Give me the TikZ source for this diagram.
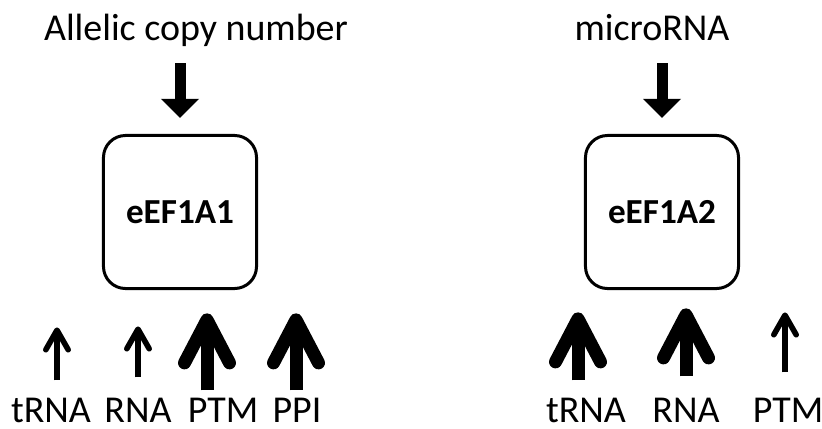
\documentclass[tikz,border=0pt]{standalone}
\usepackage{fontspec}
\setmainfont{Carlito}
\usetikzlibrary{arrows.meta}
\begin{document}
\begin{tikzpicture}[x=0.025cm, y=-0.025cm,
        lbl/.style={anchor=base, inner sep=0pt, font=\fontsize{27}{32}\selectfont},
        gene/.style={draw, line width=0.075cm, rounded corners=0.55cm,
            minimum width=3.825cm, minimum height=3.825cm,
            font=\fontsize{25}{30}\selectfont\bfseries},
        regarrow/.style={line width=0.275cm,
            -{Triangle[width=0.95cm, length=0.475cm, line width=0pt]}},
        weakup/.style={line width=0.14cm,
            -{Straight Barb[round, width=0.56cm, length=0.49cm]}},
        strongup/.style={line width=0.325cm,
            -{Straight Barb[round, width=1.125cm, length=1.075cm]}}]
        \useasboundingbox (0,0) rectangle (822,428);

        \node[lbl] (t1) at (196,40) {Allelic copy number};
        \node[lbl] (t2) at (652,40) {microRNA};

        \node[gene] (g1) at (180,212) {eEF1A1};
        \node[gene] (g2) at (662,212) {eEF1A2};

        \node[lbl] (a1) at (51,422) {tRNA};
        \node[lbl] (a2) at (138,422) {RNA};
        \node[lbl] (a3) at (223,422) {PTM};
        \node[lbl] (a4) at (297,422) {PPI};

        \node[lbl] (b1) at (586,422) {tRNA};
        \node[lbl] (b2) at (686,422) {RNA};
        \node[lbl] (b3) at (788,422) {PTM};

        \draw[regarrow, shorten <=0.575cm, shorten >=0.4cm] (g1.north |- t1.base) -- (g1.north);
        \draw[regarrow, shorten <=0.575cm, shorten >=0.4cm] (g2.north |- t2.base) -- (g2.north);

        \draw[weakup] ([shift={(6,-17)}]a1.north) -- ++(0,-53);
        \draw[weakup] ([shift={(0,-20)}]a2.north) -- ++(0,-51);
        \draw[strongup] ([shift={(-16,-7)}]a3.north) -- ++(0,-77);
        \draw[strongup] ([shift={(-1,-7)}]a4.north) -- ++(0,-77);

        \draw[strongup] ([shift={(-8,-17)}]b1.north) -- ++(0,-68);
        \draw[strongup] ([shift={(0,-21)}]b2.north) -- ++(0,-68);
        \draw[weakup] ([shift={(-3,-25)}]b3.north) -- ++(0,-60);
    \end{tikzpicture}
\end{document}
